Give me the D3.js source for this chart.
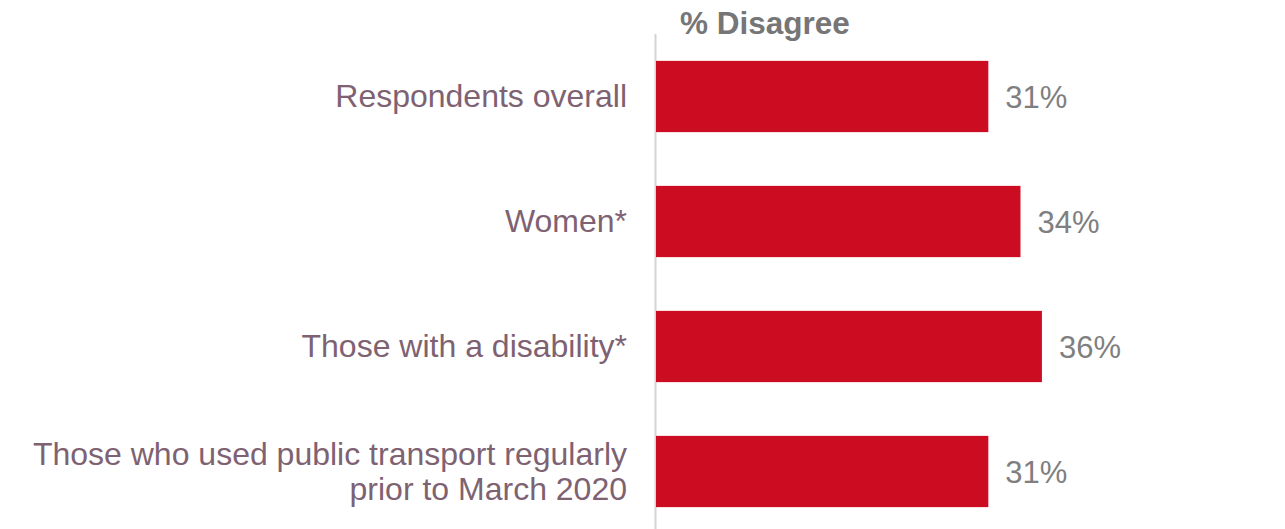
<!DOCTYPE html>
<meta charset="utf-8">
<style>
body { margin: 0; background: #fff; }
text { font-family: "Liberation Sans", Arial, sans-serif; }
.cat { fill: #7e6272; font-size: 32px; }
.val { fill: #7f7f7f; font-size: 31px; }
.title { fill: #767676; font-size: 31.5px; font-weight: bold; }
</style>
<svg width="1285" height="529"></svg>
<script src="https://d3js.org/d3.v7.min.js"></script>
<script>

var categories = [
  ["Respondents overall"],
  ["Women*"],
  ["Those with a disability*"],
  ["Those who used public transport regularly", "prior to March 2020"]
];
var values = [31, 34, 36, 31];
var title = "% Disagree";

var svg = d3.select("svg"),
    left = 656;

var x = d3.scaleLinear()
    .domain([0, 100])
    .range([left, left + 1072]);

var y = d3.scaleBand()
    .domain(d3.range(values.length))
    .range([34, 534])
    .paddingInner(0.43)
    .paddingOuter(0.215);

// axis line
svg.append("line")
    .attr("x1", left - 0.5).attr("x2", left - 0.5)
    .attr("y1", 34).attr("y2", 529)
    .attr("stroke", "#d9d1d5")
    .attr("stroke-width", 2);

svg.append("text")
    .attr("class", "title")
    .attr("x", 680)
    .attr("y", 34)
    .text(title);

svg.selectAll(".bar")
    .data(values)
  .enter().append("rect")
    .attr("class", "bar")
    .attr("x", x(0))
    .attr("y", function(d, i) { return y(i); })
    .attr("width", function(d) { return x(d) - x(0); })
    .attr("height", y.bandwidth())
    .attr("fill", "#cc0c20");

svg.selectAll(".val")
    .data(values)
  .enter().append("text")
    .attr("class", "val")
    .attr("x", function(d) { return x(d) + 17; })
    .attr("y", function(d, i) { return y(i) + y.bandwidth() / 2 + 11; })
    .text(function(d) { return d + "%"; });

var labels = svg.selectAll(".cat")
    .data(categories)
  .enter().append("text")
    .attr("class", "cat")
    .attr("text-anchor", "end")
    .attr("x", 627)
    .attr("y", function(d, i) {
      var c = y(i) + y.bandwidth() / 2;
      return d.length > 1 ? c - 7 : c + 10;
    });

labels.selectAll("tspan")
    .data(function(d) { return d; })
  .enter().append("tspan")
    .attr("x", 627)
    .attr("dy", function(d, j) { return j ? 35 : 0; })
    .text(function(d) { return d; });

</script>
